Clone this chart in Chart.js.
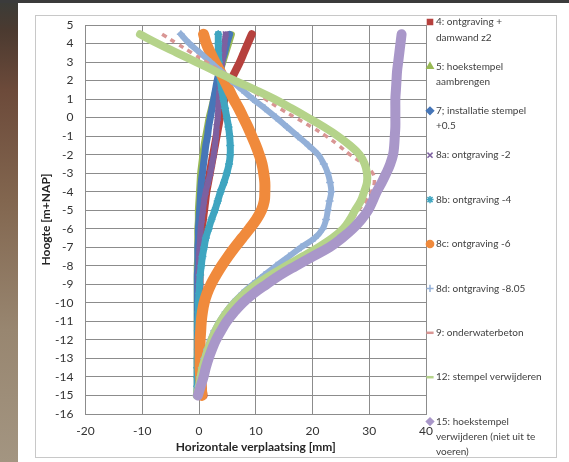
<!DOCTYPE html>
<html>
<head>
<meta charset="utf-8">
<title>Horizontale verplaatsing damwand</title>
<script src="https://cdn.jsdelivr.net/npm/chart.js@4.4.1/dist/chart.umd.min.js"></script>
<style>
  html, body { margin: 0; padding: 0; }
  body {
    width: 569px; height: 462px; position: relative; overflow: hidden;
    background: linear-gradient(to bottom, #3a3c38 0px, #4b3a30 30px, #6c4a3a 90px, #82664f 200px, #988670 330px, #a39581 462px);
  }
  .topstrip { position: absolute; left: 0; top: 0; width: 569px; height: 3px; background: #3b3b3b; }
  .slide { position: absolute; left: 18px; top: 3px; right: 0; bottom: 0; background: #fff; }
  .frame { position: absolute; left: 35px; top: 15px; width: 520px; height: 441px; border: 1px solid #c8c8c8; background: #fff; }
  canvas { display: block; }
</style>
</head>
<body>
<div class="topstrip"></div>
<div class="slide"></div>
<div class="frame"><canvas id="chart" width="520" height="441"></canvas></div>

<script>
// depth of each reading [m+NAP]
const depth = [4.5, 4, 3.5, 3, 2.5, 2, 1.5, 1, 0.5, 0,
  -0.5, -1, -1.5, -2, -2.5, -3, -3.5, -4, -4.5, -5,
  -5.5, -6, -6.5, -7, -7.5, -8, -8.5, -9, -9.5, -10,
  -10.5, -11, -11.5, -12, -12.5, -13, -13.5, -14, -14.5, -15];

// horizontal displacement [mm] per phase, same order as depth
const fase4 = [9.3, 8.6, 7.9, 7.2, 6.4, 5.6, 5.0, 4.5, 4.1, 3.7,
  3.4, 3.1, 2.8, 2.5, 2.2, 1.9, 1.6, 1.3, 1.1, 0.9,
  0.7, 0.5, 0.4, 0.3, 0.2, 0.2, 0.1, 0.1, 0.1, 0.1,
  0.1, 0.1, 0.2, 0.2, 0.3, 0.3, 0.4, 0.5, 0.6, 0.8];
const fase5 = [5.8, 5.3, 4.8, 4.3, 3.8, 3.3, 2.9, 2.5, 2.1, 1.7,
  1.4, 1.1, 0.8, 0.6, 0.4, 0.2, 0.1, 0.0, -0.1, -0.2,
  -0.2, -0.3, -0.3, -0.3, -0.3, -0.4, -0.4, -0.4, -0.4, -0.4,
  -0.4, -0.4, -0.4, -0.4, -0.4, -0.4, -0.4, -0.4, -0.4, -0.5];
const fase7 = [5.4, 4.9, 4.5, 4.0, 3.6, 3.2, 2.9, 2.6, 2.3, 2.0,
  1.7, 1.5, 1.2, 1.0, 0.8, 0.6, 0.4, 0.3, 0.2, 0.1,
  0.0, -0.1, -0.1, -0.2, -0.2, -0.2, -0.3, -0.3, -0.3, -0.3,
  -0.3, -0.3, -0.3, -0.3, -0.3, -0.3, -0.3, -0.3, -0.3, -0.3];
const fase8a = [4.7, 4.5, 4.3, 4.1, 3.9, 3.8, 3.6, 3.5, 3.4, 3.3,
  3.1, 3.0, 2.8, 2.6, 2.3, 2.0, 1.6, 1.2, 0.9, 0.7,
  0.5, 0.3, 0.2, 0.1, 0.0, 0.0, -0.1, -0.1, -0.1, -0.1,
  -0.1, -0.2, -0.2, -0.2, -0.2, -0.2, -0.2, -0.2, -0.2, -0.2];
const fase8b = [3.4, 3.4, 3.4, 3.5, 3.6, 3.8, 4.0, 4.3, 4.6, 4.9,
  5.2, 5.4, 5.5, 5.5, 5.3, 4.9, 4.4, 3.8, 3.3, 2.8,
  2.2, 1.7, 1.2, 0.9, 0.6, 0.4, 0.2, 0.1, 0.0, -0.1,
  -0.1, -0.2, -0.2, -0.2, -0.2, -0.3, -0.3, -0.3, -0.3, -0.3];
const fase8c = [0.8, 1.3, 2.0, 2.8, 3.7, 4.5, 5.3, 6.1, 7.0, 7.8,
  8.6, 9.3, 10.0, 10.6, 11.1, 11.4, 11.6, 11.6, 11.5, 11.0,
  10.1, 8.9, 7.6, 6.3, 5.1, 4.0, 3.0, 2.1, 1.4, 0.9,
  0.6, 0.4, 0.3, 0.2, 0.2, 0.2, 0.2, 0.3, 0.4, 0.5];
const fase8d = [-3.2, -1.7, 0.2, 2.0, 3.9, 5.7, 7.6, 9.5, 11.6, 13.6,
  15.5, 17.4, 19.3, 21.0, 22.0, 22.7, 23.1, 23.3, 23.0, 22.7,
  22.4, 21.8, 20.4, 18.0, 15.8, 13.6, 11.5, 9.5, 7.6, 6.0,
  4.7, 3.6, 2.7, 2.0, 1.4, 0.9, 0.5, 0.2, -0.1, -0.4];
const fase9 = [-6.5, -3.9, -1.3, 1.3, 3.9, 6.5, 9.1, 11.7, 14.2, 17.0,
  19.8, 22.4, 24.6, 26.6, 28.9, 30.6, 30.9, 30.4, 29.4, 28.1,
  27.0, 25.7, 23.8, 21.3, 18.5, 15.7, 12.9, 10.4, 8.2, 6.5,
  5.1, 3.9, 3.0, 2.3, 1.7, 1.1, 0.7, 0.3, 0.0, -0.3];
const fase12 = [-10.4, -7.3, -3.9, -0.5, 2.9, 6.3, 9.9, 13.3, 16.3, 19.2,
  22.0, 24.5, 26.6, 28.3, 29.2, 29.6, 29.6, 29.1, 28.5, 27.5,
  26.6, 25.4, 23.5, 21.0, 18.2, 15.4, 12.6, 10.1, 8.0, 6.3,
  4.9, 3.8, 2.9, 2.2, 1.6, 1.1, 0.6, 0.3, 0.0, -0.4];
const fase15 = [35.7, 35.5, 35.3, 35.1, 34.9, 34.8, 34.7, 34.6, 34.6, 34.6,
  34.6, 34.5, 34.4, 34.2, 33.7, 33.0, 32.2, 31.3, 30.6, 29.8,
  28.6, 27.1, 25.2, 23.0, 20.0, 17.1, 14.3, 11.9, 9.6, 7.7,
  6.2, 4.9, 3.9, 3.0, 2.3, 1.7, 1.2, 0.8, 0.3, -0.2];

const phaseLabels = [
  "4: ontgraving +\ndamwand z2",
  "5: hoekstempel\naambrengen",
  "7; installatie stempel\n+0.5",
  "8a: ontgraving -2",
  "8b: ontgraving -4",
  "8c: ontgraving -6",
  "8d: ontgraving -8.05",
  "9: onderwaterbeton",
  "12: stempel verwijderen",
  "15: hoekstempel\nverwijderen (niet uit te\nvoeren)"
];
const phaseValues = [fase4, fase5, fase7, fase8a, fase8b, fase8c, fase8d, fase9, fase12, fase15];
const xTickRange = [-20, 40, 10];   // min, max, step
const yTickRange = [-16, 5, 1];

const colors = ['#b6413e', '#98b954', '#4676b8', '#7d60a0', '#3fa5c0', '#f08a3c',
  '#93b0d8', '#d99694', '#b5d38a', '#a997c9'];
const markers = ['rect', 'triangle', 'rectRot', 'crossRot', 'star', 'circle',
  'cross', 'line', 'line', 'rectRot'];
const widths = [8, 6, 7, 6, 7, 11, 6, 3.5, 8, 10];

const datasets = phaseValues.map((vals, i) => ({
  label: phaseLabels[i].replace(/\n/g, ' '),
  data: vals.map((v, k) => ({ x: v, y: depth[k] })),
  showLine: true,
  borderColor: colors[i],
  backgroundColor: colors[i],
  borderWidth: widths[i],
  borderDash: i === 7 ? [5, 5] : [],
  borderCapStyle: i === 7 ? 'butt' : 'round',
  borderJoinStyle: 'round',
  tension: 0.4,
  pointRadius: (i === 6 || i === 4 || i === 3) ? 4 : 0,
  pointStyle: markers[i],
  pointBorderWidth: 1.5,
  order: 10 - i
}));

// legend on the right, one slot per phase like the excel sheet
const sideLegend = {
  id: 'sideLegend',
  afterDraw(chart) {
    const c = chart.ctx;
    c.save();
    phaseLabels.forEach((txt, i) => {
      const y = 6 + 44.4 * i;
      c.fillStyle = colors[i];
      c.strokeStyle = colors[i];
      c.lineWidth = markers[i] === 'line' ? 2.5 : 1.5;
      Chart.helpers.drawPoint(c, { pointStyle: markers[i], radius: 3.6, borderWidth: 1, rotation: 0 }, 394, y);
      c.fillStyle = '#404040';
      c.font = '10px Lato';
      c.textBaseline = 'middle';
      txt.split('\n').forEach((line, k) => c.fillText(line, 400, y + k * 15.3));
    });
    c.restore();
  }
};

const tickFont = { family: 'Lato', size: 12 };
const titleFont = { family: 'Lato', size: 12, weight: 'bold' };

new Chart(document.getElementById('chart'), {
  type: 'scatter',
  data: { datasets: datasets },
  options: {
    responsive: false,
    animation: false,
    layout: { autoPadding: false, padding: { left: 0, right: 130, top: 9, bottom: 0 } },
    plugins: { legend: { display: false }, tooltip: { enabled: false } },
    scales: {
      x: {
        type: 'linear',
        min: xTickRange[0], max: xTickRange[1],
        ticks: { stepSize: xTickRange[2], padding: 10, color: '#333', font: tickFont },
        grid: { color: '#8c8c8c', drawTicks: false },
        border: { color: '#8c8c8c' },
        title: { display: true, text: 'Horizontale verplaatsing [mm]', color: '#262626', font: titleFont, padding: { top: 0, bottom: 3 } },
        afterFit(scale) { scale.height = 43; scale.paddingLeft = 0; scale.paddingRight = 0; }
      },
      y: {
        type: 'linear',
        min: yTickRange[0], max: yTickRange[1],
        ticks: { stepSize: yTickRange[2], padding: 12, color: '#333', font: tickFont },
        grid: { color: '#8c8c8c', drawTicks: false },
        border: { color: '#8c8c8c' },
        title: { display: true, text: 'Hoogte [m+NAP]', color: '#262626', font: titleFont, padding: { top: 3, bottom: 0 } },
        afterFit(scale) { scale.width = 49.5; scale.paddingTop = 0; scale.paddingBottom = 0; }
      }
    }
  },
  plugins: [sideLegend]
});
</script>
</body>
</html>
